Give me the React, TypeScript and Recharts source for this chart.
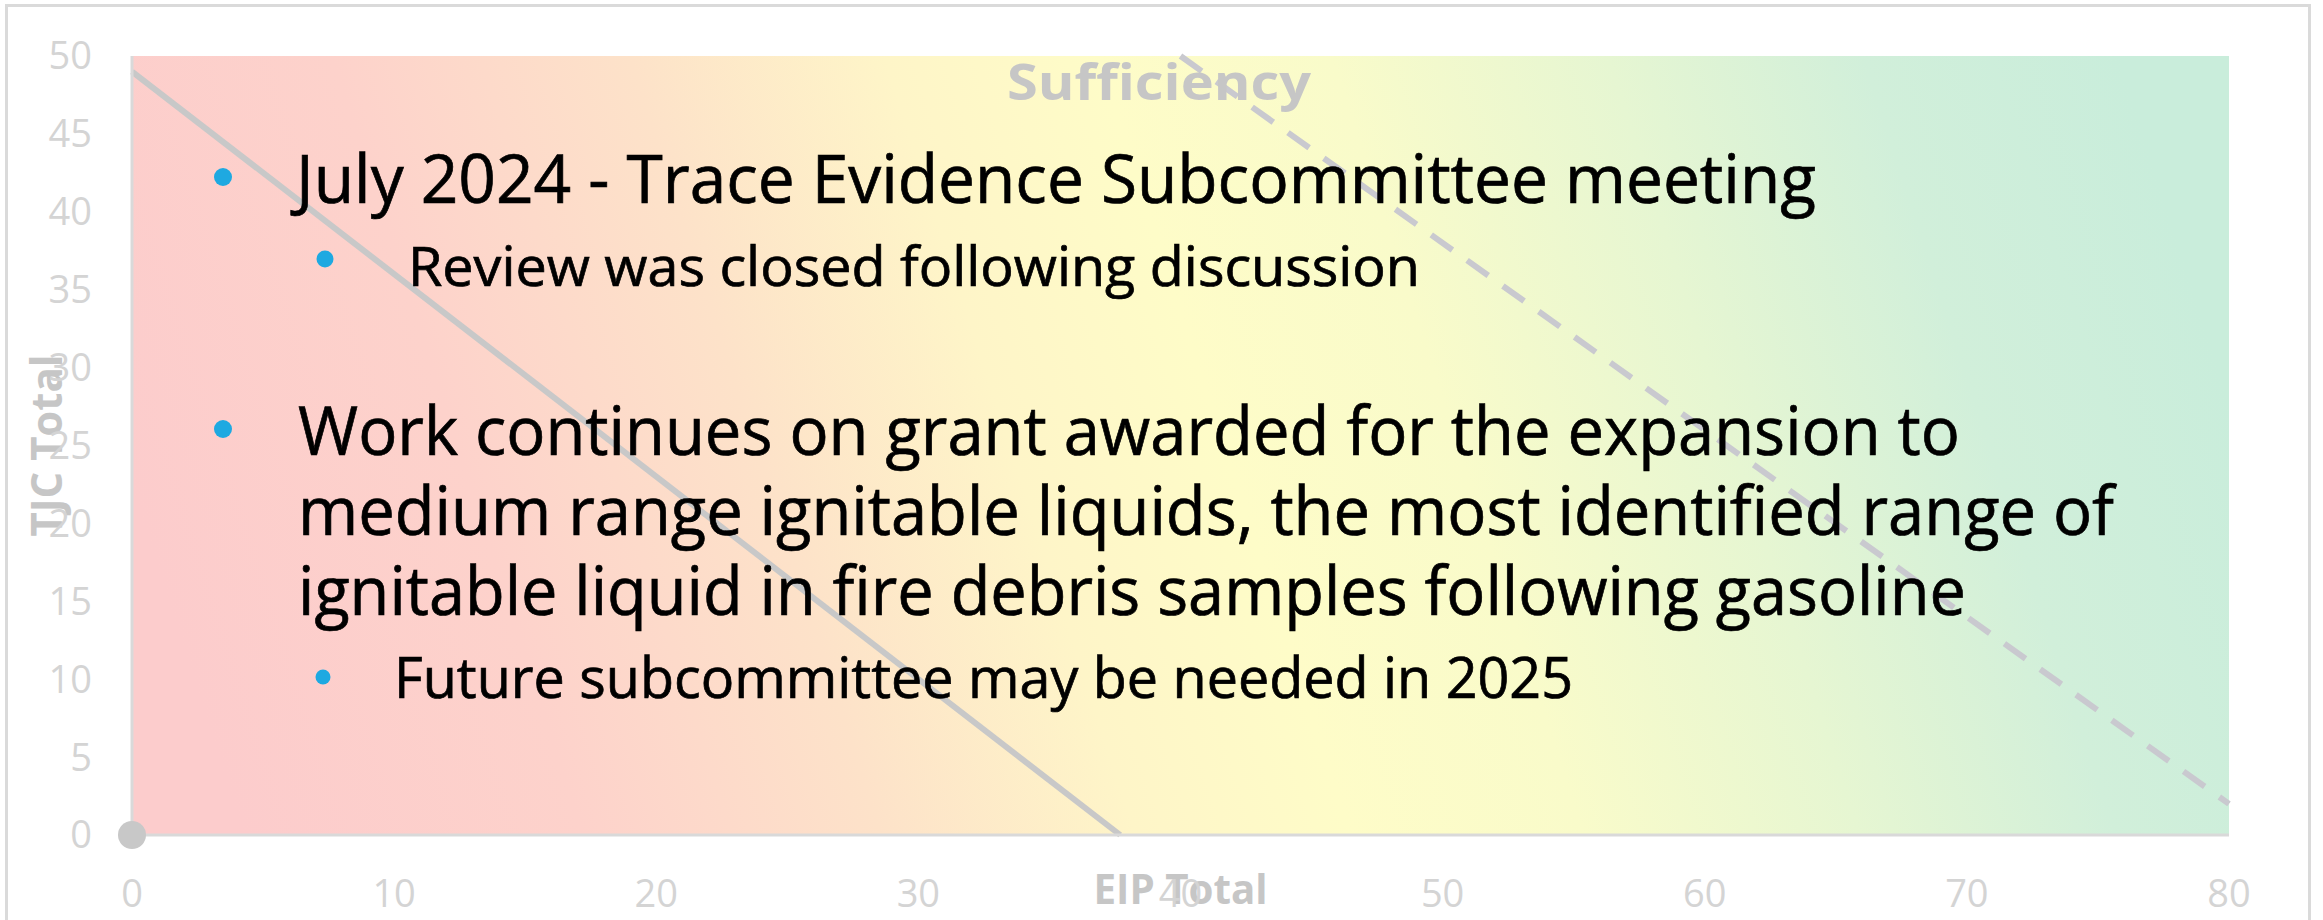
import React from 'react';
import {
  ComposedChart,
  Line,
  Scatter,
  XAxis,
  YAxis,
  CartesianGrid,
  Label,
} from 'recharts';

// axis ticks
const xTicks = [0, 10, 20, 30, 40, 50, 60, 70, 80];
const yTicks = [0, 5, 10, 15, 20, 25, 30, 35, 40, 45, 50];

// solid threshold line (EIP, TJC)
const solidX = [0, 37.7];
const solidY = [49, 0];

// dashed threshold line
const dashedX = [40, 80];
const dashedY = [50, 2];

// single sample at origin
const sampleX = [0];
const sampleY = [0];

// slide text over the chart
const noteText = [
  'July 2024 - Trace Evidence Subcommittee meeting',
  'Review was closed following discussion',
  'Work continues on grant awarded for the expansion to',
  'medium range ignitable liquids, the most identified range of',
  'ignitable liquid in fire debris samples following gasoline',
  'Future subcommittee may be needed in 2025',
];

const toPoints = (xs: number[], ys: number[]) => xs.map((x, i) => ({ x, y: ys[i] }));

const solidData = toPoints(solidX, solidY);
const dashedData = toPoints(dashedX, dashedY);
const sampleData = toPoints(sampleX, sampleY);

const FONT = "'Open Sans', 'Noto Sans', sans-serif";

// where each note line sits on the slide
const noteLayout = [
  { x: 296, y: 203, w: 1520, size: 67 },
  { x: 408, y: 286, w: 1012, size: 55 },
  { x: 298, y: 455, w: 1662, size: 67 },
  { x: 298, y: 535, w: 1816, size: 67 },
  { x: 298, y: 615, w: 1668, size: 67 },
  { x: 394, y: 698, w: 1179, size: 56 },
];
const bulletLayout = [
  { x: 223, y: 177, r: 9 },
  { x: 325, y: 259, r: 8.5 },
  { x: 223, y: 429, r: 9 },
  { x: 323, y: 677, r: 7.5 },
];

export default function App() {
  return (
    <div
      style={{
        position: 'absolute',
        left: 0,
        top: 0,
        width: 2323,
        height: 920,
        overflow: 'hidden',
        background: '#fff',
      }}
    >
      {/* chart frame */}
      <div
        style={{
          position: 'absolute',
          left: 5,
          top: 4,
          width: 2306,
          height: 1000,
          border: '3px solid #dadada',
          boxSizing: 'border-box',
        }}
      />
      <div style={{ position: 'absolute', left: 0, top: 0 }}>
        <ComposedChart
          width={2323}
          height={920}
          margin={{ top: 56, right: 94, bottom: 0, left: 0 }}
        >
          <defs>
            <linearGradient id="sufficiencyBg" x1="0" y1="0.56" x2="1" y2="0.44">
              <stop offset="0" stopColor="#fccccc" />
              <stop offset="0.16" stopColor="#fdd2cb" />
              <stop offset="0.3" stopColor="#fde2c9" />
              <stop offset="0.42" stopColor="#fef5c8" />
              <stop offset="0.52" stopColor="#fefcc8" />
              <stop offset="0.63" stopColor="#f9fbca" />
              <stop offset="0.76" stopColor="#e6f6d2" />
              <stop offset="0.88" stopColor="#d1efda" />
              <stop offset="1" stopColor="#c9eddb" />
            </linearGradient>
          </defs>
          <CartesianGrid horizontal={false} vertical={false} fill="url(#sufficiencyBg)" fillOpacity={1} />
          <XAxis
            type="number"
            dataKey="x"
            domain={[0, 80]}
            ticks={xTicks}
            height={85}
            tickSize={0}
            tickMargin={45}
            axisLine={{ stroke: '#d9d9d9', strokeWidth: 3 }}
            tick={{ fill: '#d4d4d4', fontSize: 38, fontFamily: FONT }}
          >
            <Label
              content={({ viewBox }: any) => (
                <text
                  x={viewBox.x + viewBox.width / 2}
                  y={viewBox.y + 69}
                  textAnchor="middle"
                  fill="#c6c6c6"
                  fontSize={42}
                  fontWeight={700}
                  fontFamily={FONT}
                  textLength={174}
                  lengthAdjust="spacingAndGlyphs"
                >
                  EIP Total
                </text>
              )}
            />
          </XAxis>
          <YAxis
            type="number"
            domain={[0, 50]}
            ticks={yTicks}
            width={132}
            tickSize={0}
            tickMargin={40}
            axisLine={{ stroke: '#d9d9d9', strokeWidth: 3 }}
            tick={{ fill: '#d4d4d4', fontSize: 38, fontFamily: FONT }}
          >
            <Label
              content={({ viewBox }: any) => {
                const cx = 62;
                const cy = viewBox.y + viewBox.height / 2;
                return (
                  <text
                    x={cx}
                    y={cy}
                    transform={`rotate(-90, ${cx}, ${cy})`}
                    textAnchor="middle"
                    fill="#c6c6c6"
                    fontSize={43}
                    fontWeight={700}
                    fontFamily={FONT}
                    textLength={182}
                    lengthAdjust="spacingAndGlyphs"
                  >
                    TJC Total
                  </text>
                );
              }}
            />
          </YAxis>
          <Line
            data={solidData}
            dataKey="y"
            type="linear"
            stroke="#c8c8c8"
            strokeWidth={6}
            dot={false}
            activeDot={false}
            isAnimationActive={false}
          />
          <Line
            data={dashedData}
            dataKey="y"
            type="linear"
            stroke="#c9c9cf"
            strokeWidth={6}
            strokeDasharray="26 18"
            dot={false}
            activeDot={false}
            isAnimationActive={false}
          />
          <Scatter
            data={sampleData}
            dataKey="y"
            fill="#c8c8c8"
            isAnimationActive={false}
            shape={(p: any) => <circle cx={p.cx} cy={p.cy} r={14} fill="#c8c8c8" />}
          />
        </ComposedChart>
      </div>

      {/* title and slide text */}
      <svg
        width={2323}
        height={920}
        style={{ position: 'absolute', left: 0, top: 0, pointerEvents: 'none' }}
      >
        <text
          x={1159}
          y={100}
          textAnchor="middle"
          fill="#c6c6c6"
          fontSize={51}
          fontWeight={700}
          fontFamily={FONT}
          textLength={304}
          lengthAdjust="spacingAndGlyphs"
        >
          Sufficiency
        </text>
        {bulletLayout.map((b, i) => (
          <circle key={i} cx={b.x} cy={b.y} r={b.r} fill="#1ea9e1" />
        ))}
        {noteText.map((t, i) => {
          const l = noteLayout[i];
          return (
            <text
              key={i}
              x={l.x}
              y={l.y}
              fontSize={l.size}
              fontFamily={FONT}
              fill="#000"
              stroke="#000"
              strokeWidth={0.7}
              textLength={l.w}
              lengthAdjust="spacingAndGlyphs"
            >
              {t}
            </text>
          );
        })}
      </svg>
    </div>
  );
}
